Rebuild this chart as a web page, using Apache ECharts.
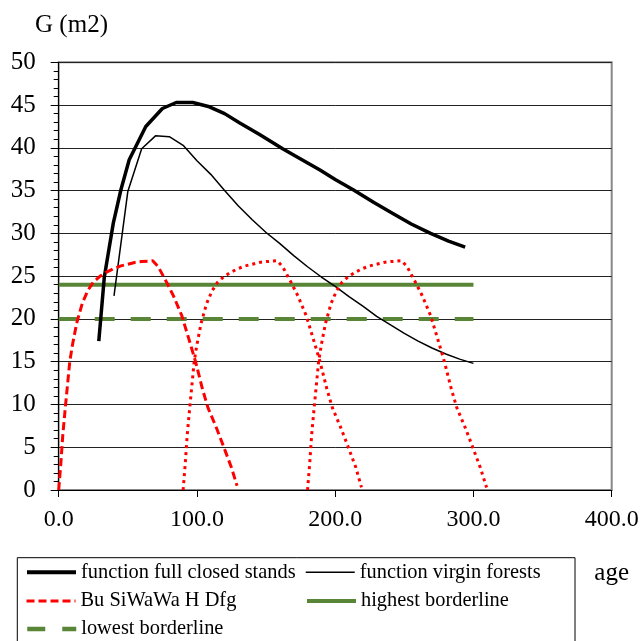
<!DOCTYPE html>
<html>
<head>
<meta charset="utf-8">
<script src="https://cdn.jsdelivr.net/npm/echarts@6/dist/echarts.min.js"></script>
<style>html,body{margin:0;padding:0;background:#fff;}#chart{width:644px;height:641px;}</style>
</head>
<body>
<div id="chart"></div>
<script>
// ---- data ----
const xTicks = [0, 100, 200, 300, 400];
const yTicks = [0, 5, 10, 15, 20, 25, 30, 35, 40, 45, 50];

const fullClosedAge = [29, 33, 39.5, 45, 51, 63, 75, 85, 97, 109, 120, 131, 145, 162, 175, 189, 200, 213, 228, 242, 255, 269, 282, 294];
const fullClosedG   = [17.4, 24.9, 31.2, 35.1, 38.6, 42.5, 44.6, 45.3, 45.3, 44.8, 44.0, 42.9, 41.6, 39.9, 38.7, 37.4, 36.3, 35.1, 33.6, 32.3, 31.1, 30.0, 29.1, 28.4];

const virginAge = [40, 50, 60, 70, 80, 90, 100, 110, 120, 130, 140, 150, 160, 170, 180, 190, 200, 210, 220, 230, 240, 250, 260, 270, 280, 290, 300];
const virginG   = [22.7, 34.9, 39.9, 41.4, 41.3, 40.3, 38.5, 36.9, 35.0, 33.2, 31.6, 30.1, 28.8, 27.4, 26.1, 24.9, 23.8, 22.6, 21.5, 20.3, 19.3, 18.3, 17.4, 16.6, 15.9, 15.3, 14.8];

const buAge1 = [0, 1.5, 3, 5, 8, 10, 13, 17, 21, 25, 30, 35, 40, 45, 50, 55, 60, 68, 72, 78, 83, 89, 95, 99, 104, 108, 114, 119, 125, 129];
const buG1   = [0, 3, 6.5, 10, 15, 17, 19.5, 21.8, 23.3, 24.3, 25, 25.5, 25.9, 26.2, 26.4, 26.6, 26.7, 26.8, 26.1, 24.3, 22.7, 20.4, 17.2, 15.0, 11.8, 9.6, 7.3, 5.2, 2.6, 0.5];

const buAge2 = [90, 91.5, 93, 95, 98, 100, 103, 107, 111, 115, 120, 125, 130, 135, 140, 145, 150, 158, 162, 168, 173, 179, 185, 189, 194, 198, 204, 209, 215, 219];
const buG2   = [0, 3, 6.5, 10, 15, 17, 19.5, 21.8, 23.3, 24.3, 25, 25.5, 25.9, 26.2, 26.4, 26.6, 26.7, 26.8, 26.1, 24.3, 22.7, 20.4, 17.2, 15.0, 11.8, 9.6, 7.3, 5.2, 2.6, 0.3];

const buAge3 = [180, 181.5, 183, 185, 188, 190, 193, 197, 201, 205, 210, 215, 220, 225, 230, 235, 240, 248, 252, 258, 263, 269, 275, 279, 284, 288, 294, 299, 305, 309.5];
const buG3   = [0, 3, 6.5, 10, 15, 17, 19.5, 21.8, 23.3, 24.3, 25, 25.5, 25.9, 26.2, 26.4, 26.6, 26.7, 26.8, 26.1, 24.3, 22.7, 20.4, 17.2, 15.0, 11.8, 9.6, 7.3, 5.2, 2.6, 0.3];

const highestAge = [0, 300];
const highestG   = [24, 24];
const lowestAge  = [0, 300];
const lowestG    = [20, 20];

const seriesNames = ['function full closed stands', 'function virgin forests', 'Bu SiWaWa H Dfg', 'highest borderline', 'lowest borderline'];

// ---- build ----
const pairs = (xs, ys) => xs.map((x, i) => [x, ys[i]]);
const FONT = 'Liberation Serif';
const GREEN = '#588536';
const RED = '#ff0000';

const chart = echarts.init(document.getElementById('chart'), null, {renderer: 'canvas'});

function legendAt(name, left, top, lineStyle) {
  return {
    data: [name], left: left, top: top, padding: 0,
    orient: 'horizontal', itemWidth: 49, itemHeight: 14, itemGap: 5,
    selectedMode: false,
    itemStyle: {color: 'rgba(0,0,0,0)', borderWidth: 0, opacity: 0},
    lineStyle: lineStyle,
    textStyle: {fontFamily: FONT, fontSize: 20.4, color: '#000', lineHeight: 24}
  };
}

const option = {
  backgroundColor: '#fff',
  animation: false,
  grid: {left: 58.7, right: 32.3, top: 62.3, bottom: 151, show: true, borderColor: '#888', borderWidth: 2, backgroundColor: 'transparent'},
  legend: [
    legendAt(seriesNames[0], 25, 560.3, {color: '#000', width: 4}),
    legendAt(seriesNames[1], 305, 560.3, {color: '#000', width: 1.5}),
    legendAt(seriesNames[2], 25, 589, {color: RED, width: 3, type: [8, 4]}),
    legendAt(seriesNames[3], 305, 589, {color: GREEN, width: 4}),
    legendAt(seriesNames[4], 25, 617, {color: GREEN, width: 4.5, type: [18, 17]})
  ],
  xAxis: {
    type: 'value', min: xTicks[0], max: xTicks[xTicks.length - 1], interval: 100,
    name: 'age', nameLocation: 'middle', nameGap: 71,
    nameTextStyle: {fontFamily: FONT, fontSize: 25, color: '#000', padding: [0, 0, 0, 553]},
    axisLine: {show: true, lineStyle: {color: '#000', width: 1}},
    axisTick: {show: true, length: 7, lineStyle: {color: '#000'}},
    axisLabel: {fontFamily: FONT, fontSize: 24, color: '#000', margin: 18, formatter: v => v.toFixed(1)},
    splitLine: {show: false}
  },
  yAxis: {
    type: 'value', min: yTicks[0], max: yTicks[yTicks.length - 1], interval: 5,
    name: 'G (m2)', nameLocation: 'end', nameGap: 37,
    nameTextStyle: {fontFamily: FONT, fontSize: 25, color: '#000', align: 'center', verticalAlign: 'middle', padding: [0, 0, 0, 25.6]},
    axisLine: {show: true, lineStyle: {color: '#000', width: 1}},
    axisTick: {show: true, length: 8, lineStyle: {color: '#000'}},
    minorTick: {show: true, splitNumber: 5, length: 5, lineStyle: {color: '#000'}},
    axisLabel: {fontFamily: FONT, fontSize: 25, color: '#000', margin: 23},
    splitLine: {show: true, lineStyle: {color: '#222', width: 1}}
  },
  graphic: [
    {type: 'rect', shape: {x: 17.3, y: 557.7, width: 557.7, height: 100}, style: {fill: 'none', stroke: '#000', lineWidth: 1}, z: 0}
  ],
  series: [
    {name: seriesNames[3], type: 'line', data: pairs(highestAge, highestG), symbol: 'none', z: 2,
      lineStyle: {color: GREEN, width: 4}, itemStyle: {color: GREEN}},
    {name: seriesNames[4], type: 'line', data: pairs(lowestAge, lowestG), symbol: 'none', z: 2,
      lineStyle: {color: GREEN, width: 4, type: [20, 16]}, itemStyle: {color: GREEN}},
    {name: seriesNames[0], type: 'line', data: pairs(fullClosedAge, fullClosedG), symbol: 'none', z: 3,
      lineStyle: {color: '#000', width: 3.5, join: 'round'}, itemStyle: {color: '#000'}},
    {name: seriesNames[1], type: 'line', data: pairs(virginAge, virginG), symbol: 'none', z: 3,
      lineStyle: {color: '#000', width: 1.5}, itemStyle: {color: '#000'}},
    {name: seriesNames[2], type: 'line', data: pairs(buAge1, buG1), symbol: 'none', z: 4,
      lineStyle: {color: RED, width: 3, type: [8, 4]}, itemStyle: {color: RED}},
    {name: 'Bu SiWaWa H Dfg (2)', type: 'line', data: pairs(buAge2, buG2), symbol: 'none', z: 4,
      lineStyle: {color: RED, width: 3, type: [3, 4]}, itemStyle: {color: RED}},
    {name: 'Bu SiWaWa H Dfg (3)', type: 'line', data: pairs(buAge3, buG3), symbol: 'none', z: 4,
      lineStyle: {color: RED, width: 3, type: [3, 4]}, itemStyle: {color: RED}}
  ]
};
chart.setOption(option);
</script>
</body>
</html>
